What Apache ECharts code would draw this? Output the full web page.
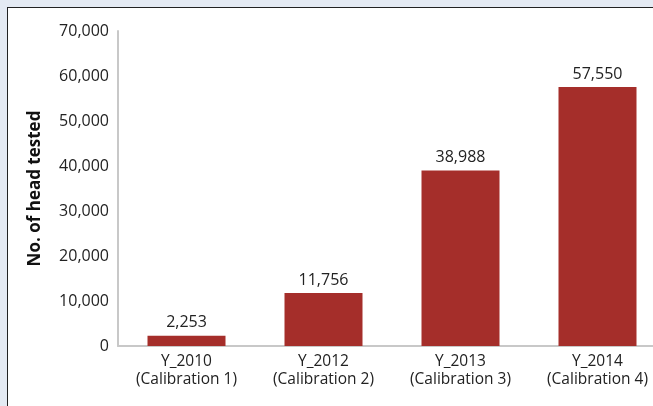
<!DOCTYPE html>
<html><head><meta charset="utf-8">
<script src="https://cdn.jsdelivr.net/npm/echarts@6/dist/echarts.min.js"></script>
<style>
html,body{margin:0;padding:0;width:653px;height:406px;overflow:hidden;background:#e4eaf3;}
#panel{position:absolute;left:7px;top:7px;width:700px;height:450px;background:#fff;border-left:1.5px solid #222;border-top:1.5px solid #222;}
#chart{position:absolute;left:0;top:0;width:653px;height:406px;}
</style></head>
<body>
<div id="panel"></div>
<div id="chart"></div>
<script>
const categories = ['Y_2010\n(Calibration 1)','Y_2012\n(Calibration 2)','Y_2013\n(Calibration 3)','Y_2014\n(Calibration 4)'];
const values = [2253, 11756, 38988, 57550];
const yTicks = {min:0, max:70000, interval:10000};
const yTitle = 'No. of head tested';

const fmt = v => v.toLocaleString('en-US');
const chart = echarts.init(document.getElementById('chart'));
chart.setOption({
  backgroundColor: 'transparent',
  textStyle:{fontFamily:'Open Sans'},
  grid:{left:118, right:-13, top:31, bottom:60, containLabel:false, outerBoundsMode:'none'},
  xAxis:{type:'category', data:categories,
    axisLine:{lineStyle:{color:'#c8c8c8', width:2}}, axisTick:{show:false},
    axisLabel:{color:'#222', fontSize:15.5, lineHeight:18, margin:7, interval:0}},
  yAxis:{type:'value', min:yTicks.min, max:yTicks.max, interval:yTicks.interval,
    name:yTitle, nameLocation:'middle', nameGap:74, nameRotate:90,
    nameTextStyle:{fontSize:17, fontWeight:'bold', color:'#111'},
    axisLine:{show:true, lineStyle:{color:'#c8c8c8', width:2}}, axisTick:{show:false},
    splitLine:{show:false},
    axisLabel:{color:'#222', fontSize:16, margin:9, formatter:fmt}},
  series:[{type:'bar', data:values, barWidth:78,
    itemStyle:{color:'#a52e2a'},
    label:{show:true, position:'top', distance:5, color:'#222', fontSize:16, formatter:p=>fmt(p.value)}}]
});
</script>
</body></html>
